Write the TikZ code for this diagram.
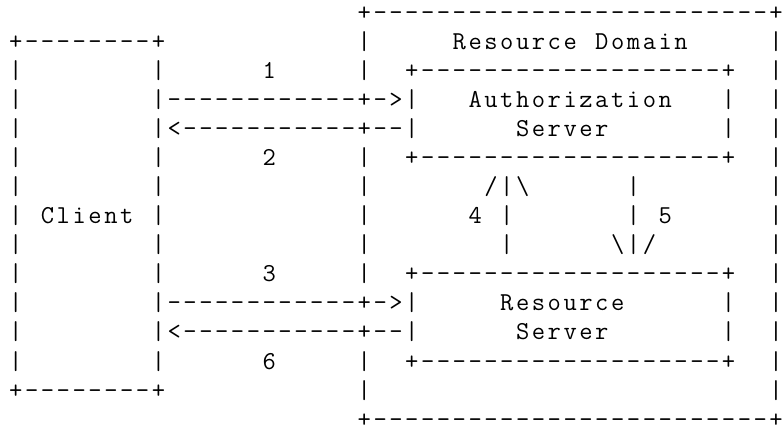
\documentclass[tikz,border=0pt]{standalone}
\usepackage{tikz}

\tikzset{
  ascii/.style={anchor=base, inner sep=0pt, text=black,
    font=\fontsize{13pt}{15pt}\selectfont\ttfamily},
}

\begin{document}
\begin{tikzpicture}[x=7.98pt, y=-14.65pt]

 \useasboundingbox (-1.0025,-0.693) rectangle (48.50,14.095);

 % resource domain frame
 \foreach \i in {23,...,47} {
   \node[ascii] (domtop\i) at (\i,0) {-};
   \node[ascii] (dombot\i) at (\i,14) {-};
 }
 \foreach \row in {1,...,13}
   \node[ascii] (domright\row) at (48,\row) {|};
 \foreach \row in {1,2,5,6,7,8,9,12,13}
   \node[ascii] (domleft\row) at (22,\row) {|};
 \foreach \i/\row in {22/0,48/0,22/14,48/14,22/3,22/4,22/10,22/11}
   \node[ascii] (domplus\i-\row) at (\i,\row) {+};
 \foreach \name [count=\k from 28] in {R,e,s,o,u,r,c,e}
   \node[ascii] (domtxt\k) at (\k,1) {\name};
 \foreach \name [count=\k from 37] in {D,o,m,a,i,n}
   \node[ascii] (domtxt\k) at (\k,1) {\name};

 % client box
 \foreach \i in {1,...,8} {
   \node[ascii] (cltop\i) at (\i,1) {-};
   \node[ascii] (clbot\i) at (\i,13) {-};
 }
 \foreach \i/\row in {0/1,9/1,0/13,9/13}
   \node[ascii] (clplus\i-\row) at (\i,\row) {+};
 \foreach \row in {2,...,12} {
   \node[ascii] (clleft\row) at (0,\row) {|};
   \node[ascii] (clright\row) at (9,\row) {|};
 }
 \foreach \name [count=\k from 2] in {C,l,i,e,n,t}
   \node[ascii] (cltxt\k) at (\k,7) {\name};

 %level 2: authorization server (rows 2-5) and resource server (rows 9-12)
 \foreach \top in {2,9} {
   \pgfmathtruncatemacro{\bot}{\top+3}
   \foreach \i in {26,...,44} {
     \node[ascii] (srvtop\top-\i) at (\i,\top) {-};
     \node[ascii] (srvbot\top-\i) at (\i,\bot) {-};
   }
   \foreach \i in {25,45} {
     \node[ascii] (srvplust\top-\i) at (\i,\top) {+};
     \node[ascii] (srvplusb\top-\i) at (\i,\bot) {+};
   }
   \foreach \d in {1,2} {
     \node[ascii] (srvleft\top-\d) at (25,\top+\d) {|};
     \node[ascii] (srvright\top-\d) at (45,\top+\d) {|};
   }
 }
 \foreach \name [count=\k from 29] in {A,u,t,h,o,r,i,z,a,t,i,o,n}
   \node[ascii] (astxt\k) at (\k,3) {\name};
 \foreach \name [count=\k from 31] in {R,e,s,o,u,r,c,e}
   \node[ascii] (rstxt\k) at (\k,10) {\name};
 \foreach \row in {4,11}
   \foreach \name [count=\k from 32] in {S,e,r,v,e,r}
     \node[ascii] (srvtxt\row-\k) at (\k,\row) {\name};

 % lines: client <-> servers
 \foreach \row in {3,10} {
   \foreach \i in {10,...,21,23}
     \node[ascii] (req\row-\i) at (\i,\row) {-};
   \node[ascii] (reqtip\row) at (24,\row) {>};
 }
 \foreach \row in {4,11} {
   \node[ascii] (resptip\row) at (10,\row) {<};
   \foreach \i in {11,...,21,23,24}
     \node[ascii] (resp\row-\i) at (\i,\row) {-};
 }
 \foreach \i/\row/\name in {16/2/1, 16/5/2, 16/9/3, 16/12/6, 29/7/4, 41/7/5}
   \node[ascii] (step\name) at (\i,\row) {\name};

 % lines: authorization server <-> resource server
 \foreach \row in {6,7,8} {
   \node[ascii] (upbar\row) at (31,\row) {|};
   \node[ascii] (downbar\row) at (39,\row) {|};
 }
 \node[ascii] (upleft) at (30,6) {/};
 \node[ascii] (upright) at (32,6) {\textbackslash};
 \node[ascii] (downleft) at (38,8) {\textbackslash};
 \node[ascii] (downright) at (40,8) {/};

\end{tikzpicture}
\end{document}
